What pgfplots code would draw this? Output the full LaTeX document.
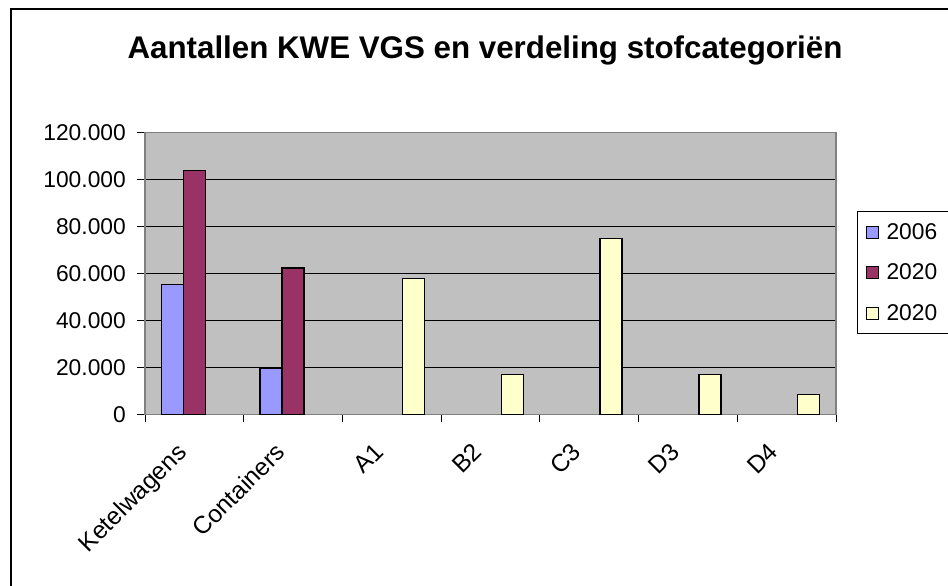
\documentclass[border=0pt]{standalone}
\usepackage{pgfplots}
\pgfplotsset{compat=1.18}
\usepackage{fontspec}
\setmainfont{Liberation Sans}
\definecolor{cA}{HTML}{9999FF}
\definecolor{cB}{HTML}{993366}
\definecolor{cC}{HTML}{FFFFCC}
\definecolor{plotgray}{HTML}{C0C0C0}
\definecolor{framegray}{HTML}{808080}
\begin{document}
\begin{tikzpicture}
\useasboundingbox (0bp,0bp) rectangle (948bp,586bp);
\draw[line width=2bp] (10.7bp,-20bp) rectangle (990bp,577.3bp);
\node[anchor=base, inner sep=0pt, font=\bfseries\fontsize{31.3bp}{36bp}\selectfont] at (485bp,527bp) {Aantallen KWE VGS en verdeling stofcategoriën};
\begin{axis}[
  at={(145bp,171.7bp)}, anchor=south west,
  scale only axis, width=691bp, height=282bp,
  xmin=-0.5, xmax=6.5, ymin=0, ymax=120000,
  axis background/.style={fill=plotgray},
  axis line style={draw=framegray, line width=1.2bp},
  ybar=0pt, bar width=21.9bp,
  tick align=outside, major tick length=8bp,
  tick style={draw=black, line width=0.8bp},
  ytick={0,20000,40000,60000,80000,100000,120000},
  ytick pos=left, xtick pos=bottom,
  ymajorgrids, major grid style={draw=black, line width=1bp},
  scaled y ticks=false,
  /pgf/number format/assume math mode=true,
  yticklabel style={font=\fontsize{22.8bp}{27bp}\selectfont, inner sep=0pt, xshift=-11bp,
    /pgf/number format/.cd, fixed, 1000 sep={.}},
  xtick={-0.5,0.5,1.5,2.5,3.5,4.5,5.5,6.5},
  xticklabels={},
  extra x ticks={0,1,2,3,4,5,6},
  extra x tick labels={Ketelwagens,Containers,A1,B2,C3,D3,D4},
  extra x tick style={major tick length=0pt, grid=none,
    xticklabel style={xshift=-19bp, yshift=-27bp, rotate=45, anchor=north east, inner sep=0pt,
      font=\fontsize{24.5bp}{28bp}\selectfont}},
  legend style={at={(1.0304,0.7209)}, anchor=north west, draw=black, line width=1bp,
    fill=white, font=\fontsize{22.8bp}{27bp}\selectfont,
    inner xsep=8bp, inner ysep=10bp, row sep=19bp, column sep=6bp,
    nodes={inner sep=2bp}},
  legend cell align=left,
  legend image code/.code={\draw[#1, draw=black, line width=1bp] (0bp,-6bp) rectangle (12bp,6bp);},
]
\addplot[fill=cA, draw=black, line width=1.5bp] coordinates {(0,55300) (1,19800)};
\addplot[fill=cB, draw=black, line width=1.5bp] coordinates {(0,103800) (1,62300)};
\addplot[fill=cC, draw=black, line width=1.5bp] coordinates {(2,57700) (3,17000) (4,74900) (5,17000) (6,8500)};
\legend{2006\hspace*{20bp},2020\hspace*{20bp},2020\hspace*{20bp}}
\end{axis}
\end{tikzpicture}
\end{document}
